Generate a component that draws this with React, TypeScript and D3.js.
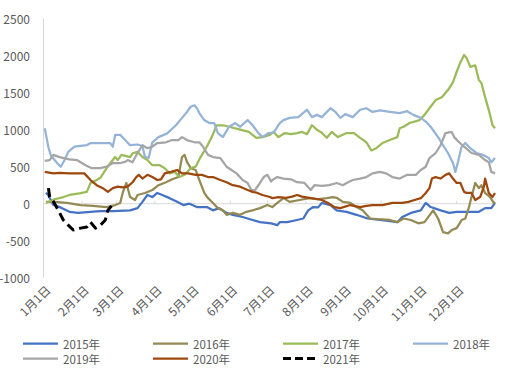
import React from "react";
import * as d3 from "d3";

type Pt = [number, number];

const monthLabels = ["1月1日","2月1日","3月1日","4月1日","5月1日","6月1日","7月1日","8月1日","9月1日","10月1日","11月1日","12月1日"];
const monthDays = [0, 31, 59, 90, 120, 151, 181, 212, 243, 273, 304, 334];
const yTicks = [-1000, -500, 0, 500, 1000, 1500, 2000, 2500];

const s2015: Pt[] = [[2,150],[4,110],[8,-18],[12,-40],[15,-60],[21,-110],[28,-125],[38,-110],[46,-100],[56,-100],[70,-90],[76,-60],[80,25],[84,118],[88,90],[92,145],[96,118],[102,75],[108,25],[113,-18],[118,0],[124,-45],[132,-45],[137,-90],[142,-60],[148,-125],[153,-150],[161,-180],[169,-220],[175,-250],[184,-265],[189,-290],[191,-250],[197,-250],[205,-220],[210,-200],[214,-90],[218,-45],[222,-50],[225,10],[232,-18],[237,-90],[245,-110],[253,-150],[262,-200],[272,-220],[280,-235],[286,-250],[290,-180],[297,-125],[305,-90],[309,10],[313,-45],[321,-90],[328,-125],[334,-110],[341,-110],[347,-110],[352,-110],[357,-60],[362,-60],[365,10]];
const s2016: Pt[] = [[2,25],[9,25],[19,10],[30,-18],[40,-30],[51,-45],[58,-18],[62,10],[64,145],[67,280],[70,90],[74,50],[76,118],[82,145],[88,185],[93,250],[99,290],[104,330],[109,360],[112,630],[114,660],[116,565],[119,480],[123,455],[126,320],[130,145],[133,75],[137,10],[141,-60],[145,-90],[148,-150],[153,-125],[159,-150],[164,-110],[169,-90],[175,-60],[181,-18],[185,-45],[189,10],[194,75],[199,25],[207,50],[215,75],[221,60],[229,75],[234,90],[237,80],[242,25],[248,10],[253,-45],[258,-90],[264,-200],[270,-210],[280,-220],[286,-250],[291,-200],[297,-220],[303,-265],[308,-250],[315,-90],[319,-200],[323,-385],[327,-400],[330,-356],[334,-330],[337,-250],[338,-220],[341,-200],[344,-45],[346,90],[349,280],[352,210],[354,250],[357,145],[361,90],[364,10],[365,25]];
const s2017: Pt[] = [[2,10],[9,60],[16,90],[21,118],[29,140],[35,160],[38,280],[43,320],[46,350],[50,455],[54,550],[58,630],[60,590],[63,660],[70,630],[72,680],[76,700],[80,630],[84,590],[88,520],[94,520],[98,480],[102,410],[106,430],[110,360],[114,390],[119,480],[123,500],[127,630],[132,770],[136,900],[140,1060],[145,1060],[150,1040],[159,1000],[166,970],[172,890],[177,900],[183,930],[186,970],[190,900],[195,955],[200,940],[205,955],[209,970],[213,940],[217,1060],[221,1000],[225,960],[229,890],[233,970],[238,900],[245,955],[251,955],[256,890],[261,830],[265,720],[269,750],[274,820],[280,860],[286,900],[288,1020],[291,1040],[296,1090],[304,1130],[308,1200],[312,1290],[317,1400],[322,1440],[327,1535],[331,1640],[334,1780],[337,1910],[338,1940],[340,2010],[342,1970],[345,1850],[349,1870],[352,1670],[354,1630],[357,1440],[360,1265],[363,1060],[365,1020]];
const s2018: Pt[] = [[1,1020],[4,760],[6,650],[11,550],[14,500],[17,590],[20,700],[25,770],[35,790],[38,820],[54,820],[56,770],[58,930],[62,930],[66,860],[70,790],[76,800],[80,780],[82,630],[85,620],[88,830],[93,900],[100,950],[107,1060],[112,1160],[116,1240],[119,1310],[122,1330],[124,1290],[126,1225],[130,1130],[134,1090],[138,1090],[141,955],[145,900],[150,1040],[155,1090],[159,1040],[165,1130],[169,1060],[173,970],[177,900],[182,955],[186,960],[191,1090],[194,1130],[199,1160],[206,1170],[211,1240],[213,1270],[217,1170],[221,1200],[225,1170],[232,1290],[236,1240],[240,1160],[244,1210],[250,1170],[256,1270],[261,1290],[266,1240],[272,1260],[280,1240],[288,1225],[294,1250],[299,1200],[305,1160],[309,1110],[313,1040],[319,900],[323,790],[327,685],[331,550],[333,430],[335,560],[338,770],[341,820],[345,750],[350,685],[355,660],[360,617],[362,560],[365,617]];
const s2019: Pt[] = [[1,580],[5,590],[8,660],[13,630],[21,600],[27,590],[34,520],[39,480],[46,480],[51,500],[56,550],[62,550],[66,565],[68,590],[72,560],[76,685],[80,790],[84,750],[88,770],[92,820],[99,830],[104,860],[109,860],[112,900],[116,860],[122,830],[126,830],[129,770],[133,660],[137,630],[143,615],[148,500],[152,455],[156,410],[161,320],[165,280],[168,185],[171,185],[175,280],[178,360],[181,390],[184,300],[185,320],[189,360],[194,340],[200,330],[205,290],[211,280],[216,185],[219,250],[225,240],[231,250],[237,280],[242,250],[245,280],[250,320],[256,340],[261,360],[266,410],[272,430],[277,410],[282,360],[288,340],[294,390],[301,390],[305,455],[309,500],[312,617],[317,685],[321,790],[325,955],[330,970],[332,900],[336,830],[340,770],[346,685],[352,660],[357,590],[360,560],[362,430],[365,410]];
const s2020: Pt[] = [[1,430],[8,410],[13,415],[21,410],[33,410],[38,320],[43,250],[48,210],[52,160],[56,210],[60,230],[64,220],[68,230],[72,290],[75,360],[77,390],[80,340],[84,390],[88,360],[92,320],[95,330],[98,410],[103,430],[108,455],[112,410],[117,410],[123,390],[128,390],[133,360],[137,360],[143,320],[148,290],[153,250],[159,230],[165,185],[169,160],[173,145],[177,118],[183,90],[185,75],[190,90],[196,80],[201,95],[205,118],[209,95],[215,80],[219,70],[225,50],[230,10],[235,-45],[240,-60],[248,-18],[256,-45],[261,-30],[266,-18],[274,-20],[282,10],[290,10],[295,25],[300,50],[305,75],[306,90],[309,145],[312,210],[314,340],[317,360],[321,340],[325,390],[328,410],[331,340],[334,280],[337,280],[340,160],[342,145],[346,145],[349,50],[353,90],[356,230],[357,340],[360,145],[363,90],[365,145]];
const s2021: Pt[] = [[4,210],[5,90],[8,30],[12,-90],[16,-220],[20,-290],[24,-356],[30,-330],[35,-315],[38,-250],[42,-330],[46,-290],[50,-220],[52,-90],[55,-30]];

const seriesNames = ["2015年","2016年","2017年","2018年","2019年","2020年","2021年"];
const seriesData = [s2015, s2016, s2017, s2018, s2019, s2020, s2021];
const seriesColors = ["#4472C4","#948A54","#9BBB59","#95B3D7","#A5A5A5","#9E480E","#000000"];

const W = 515, H = 369;
const font = "'Noto Sans CJK SC', 'Noto Sans', sans-serif";
const textColor = "#595959";

export default function App() {
  const x = d3.scaleLinear().domain([0, 365]).range([43.5, 495]);
  const y = d3.scaleLinear().domain([-1000, 2500]).range([277.7, 18.7]);
  const line = d3.line<Pt>().x(d => x(d[0])).y(d => y(d[1])).curve(d3.curveLinear);

  const legendCols = [23, 153, 283, 413];
  const legendRows = [343.5, 358.5];

  return (
    <svg width={W} height={H} style={{ position: "absolute", left: 0, top: 0, background: "#fff" }} fontFamily={font}>
      <rect width={W} height={H} fill="#fff" />
      <line x1={x(0)} x2={x(0)} y1={y(2500)} y2={y(-1000)} stroke="#D9D9D9" strokeWidth={1} />
      <line x1={x(0)} x2={x(365)} y1={y(0)} y2={y(0)} stroke="#D9D9D9" strokeWidth={1} />
      {monthDays.map((d, i) => (
        <line key={"t" + i} x1={x(d)} x2={x(d)} y1={y(0)} y2={y(0) - 3} stroke="#D9D9D9" strokeWidth={1} />
      ))}
      {yTicks.map(t => (
        <text key={t} x={30} y={y(t)} textAnchor="end" dominantBaseline="central" fontSize={12} fill={textColor}>{t}</text>
      ))}
      {monthLabels.map((m, i) => (
        <text key={m} transform={`translate(${x(monthDays[i]) + 4},${287}) rotate(-45)`} textAnchor="end" dominantBaseline="central" fontSize={12} fill={textColor}>{m}</text>
      ))}
      {seriesData.map((s, i) => (
        <path key={seriesNames[i]} d={line(s) || ""} fill="none" stroke={seriesColors[i]}
          strokeWidth={i === 6 ? 3 : 2.25} strokeDasharray={i === 6 ? "9 5" : undefined} strokeLinejoin="round" />
      ))}
      {seriesNames.map((n, i) => {
        const cx = legendCols[i % 4];
        const cy = legendRows[Math.floor(i / 4)];
        return (
          <g key={"lg" + n}>
            <line x1={cx} x2={cx + 35} y1={cy} y2={cy} stroke={seriesColors[i]} strokeWidth={i === 6 ? 3 : 2.25} strokeDasharray={i === 6 ? "8 4" : undefined} />
            <text x={cx + 40} y={cy} dominantBaseline="central" fontSize={11.5} fill={textColor}>{n}</text>
          </g>
        );
      })}
    </svg>
  );
}
